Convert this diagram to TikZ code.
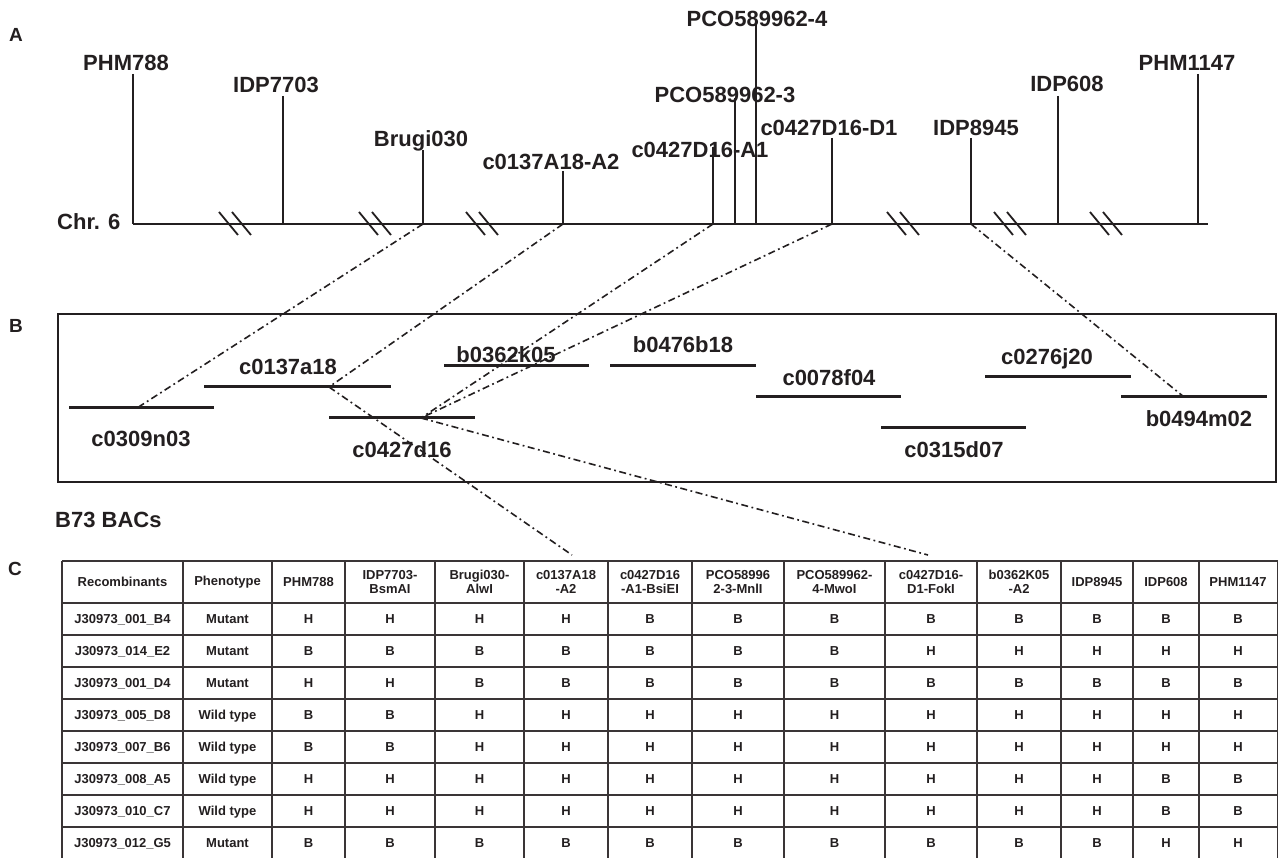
\documentclass[tikz,border=0pt]{standalone}
\usepackage{fontspec}
\setmainfont{Liberation Sans}
\definecolor{ink}{HTML}{231F20}
\definecolor{gridc}{HTML}{3A3536}
\begin{document}
\begin{tikzpicture}[x=1pt,y=-1pt,
  lbl/.style={font=\fontsize{22}{24}\selectfont\bfseries, text=ink, inner sep=0pt, anchor=base},
  panel/.style={font=\fontsize{19}{21}\selectfont\bfseries, text=ink, inner sep=0pt, anchor=base west},
  mline/.style={draw=ink, line width=2pt},
  chrline/.style={draw=ink, line width=2.2pt},
  brk/.style={draw=ink, line width=1.8pt},
  bac/.style={draw=ink, line width=3pt},
  boxline/.style={draw=ink, line width=2pt},
  linkline/.style={draw=ink, line width=1.6pt, dash pattern=on 7pt off 3.5pt on 1.8pt off 3.5pt},
  gridline/.style={draw=gridc, line width=1.8pt},
  hdr/.style={font=\fontsize{13}{13.5}\selectfont\bfseries, text=ink, inner sep=0pt, align=center},
  cell/.style={font=\fontsize{13}{14}\selectfont\bfseries, text=ink, inner sep=0pt, anchor=base}
]
\useasboundingbox (0,0) rectangle (1278,858);
\fill[white] (0,0) rectangle (1278,858);

% ---------------- Panel A ----------------
\node[panel] (pA) at (9,42) {A};
\node[lbl, anchor=base west] (chr) at (57,230) {Chr. 6};
\coordinate (chrL) at (133,224);
\coordinate (chrR) at (1208,224);
\draw[chrline] (chrL) -- (chrR);

\foreach \nm/\x/\t/\lx/\ly/\txt in {
  PHMa/133/74/126/71/PHM788,
  IDPa/283/96/276/93/IDP7703,
  Brugi/423/150/421/147/Brugi030,
  cAtwo/563/171/551/170/c0137A18-A2,
  cAone/713/147/700/158/c0427D16-A1,
  PCOc/735/98/725/103/PCO589962-3,
  PCOd/756/22/757/27/PCO589962-4,
  cDone/832/138/829/136/c0427D16-D1,
  IDPb/971/138/976/136/IDP8945,
  IDPc/1058/96/1067/92/IDP608,
  PHMb/1198/74/1187/71/PHM1147}
{
  \node[lbl] (l\nm) at (\lx,\ly) {\txt};
  \coordinate (m\nm) at (\x,224);
  \coordinate (t\nm) at (\x,\t);
  \draw[mline] (t\nm) -- (m\nm);
}

\foreach \c in {235,375,482,903,1010,1106}{
  \draw[brk] ({\c-16},212) -- ({\c+3},235);
  \draw[brk] ({\c-3},212) -- ({\c+16},235);
}

% ---------------- Panel B ----------------
\node[panel] (pB) at (9,333) {B};
\draw[boxline] (58,314) rectangle (1276,482);

\foreach \nm/\xa/\xb/\y/\lx/\ly in {
  c0309n03/69/214/408/141/447,
  c0137a18/204/391/387/288/375,
  c0427d16/329/475/418/402/458,
  b0362k05/444/589/366/506/363,
  b0476b18/610/756/366/683/353,
  c0078f04/756/901/397/829/386,
  c0315d07/881/1026/428/954/458,
  c0276j20/985/1131/377/1047/365,
  b0494m02/1121/1267/397/1199/427}
{
  \draw[bac] (\xa,\y) -- (\xb,\y);
  \node[lbl] (\nm) at (\lx,\ly) {\nm};
}

\node[lbl, anchor=base west] (b73) at (55,528) {B73 BACs};

% connectors
\coordinate (hitA) at (137,408);
\coordinate (hitB) at (329,387);
\coordinate (hitC) at (421,418);
\coordinate (hitD) at (1184,397);
\coordinate (tabA) at (572,555);
\coordinate (tabB) at (928,555);
\draw[linkline] (mBrugi) -- (hitA);
\draw[linkline] (mcAtwo) -- (hitB);
\draw[linkline] (hitB) -- (tabA);
\draw[linkline] (mcAone) -- (hitC);
\draw[linkline] (mcDone) -- (hitC);
\draw[linkline] (hitC) -- (tabB);
\draw[linkline] (mIDPb) -- (hitD);

% ---------------- Panel C ----------------
\node[panel] (pC) at (8,575) {C};

\foreach \x in {62,183,272,345,435,524,608,692,784,885,977,1061,1133,1199,1277.5}
  \draw[gridline] (\x,561) -- (\x,862);
\foreach \y in {561,603,635,667,699,731,763,795,827,859}
  \draw[gridline] (62,\y) -- (1277.5,\y);

\node[hdr] (h1) at (122.5,582) {Recombinants};
\node[hdr] (h2) at (227.5,582) {Phenotype};
\node[hdr] (h3) at (308.5,582) {PHM788};
\node[hdr] (h4) at (390,582) {IDP7703-\\BsmAI};
\node[hdr] (h5) at (479.5,582) {Brugi030-\\AlwI};
\node[hdr] (h6) at (566,582) {c0137A18\\-A2};
\node[hdr] (h7) at (650,582) {c0427D16\\-A1-BsiEI};
\node[hdr] (h8) at (738,582) {PCO58996\\2-3-MnlI};
\node[hdr] (h9) at (834.5,582) {PCO589962-\\4-MwoI};
\node[hdr] (h10) at (931,582) {c0427D16-\\D1-FokI};
\node[hdr] (h11) at (1019,582) {b0362K05\\-A2};
\node[hdr] (h12) at (1097,582) {IDP8945};
\node[hdr] (h13) at (1166,582) {IDP608};
\node[hdr] (h14) at (1238,582) {PHM1147};

\def\colxs{{122.5,227.5,308.5,390,479.5,566,650,738,834.5,931,1019,1097,1166,1238}}
\foreach \row [count=\r] in {
  {J30973\_001\_B4,Mutant,H,H,H,H,B,B,B,B,B,B,B,B},
  {J30973\_014\_E2,Mutant,B,B,B,B,B,B,B,H,H,H,H,H},
  {J30973\_001\_D4,Mutant,H,H,B,B,B,B,B,B,B,B,B,B},
  {J30973\_005\_D8,Wild type,B,B,H,H,H,H,H,H,H,H,H,H},
  {J30973\_007\_B6,Wild type,B,B,H,H,H,H,H,H,H,H,H,H},
  {J30973\_008\_A5,Wild type,H,H,H,H,H,H,H,H,H,H,B,B},
  {J30973\_010\_C7,Wild type,H,H,H,H,H,H,H,H,H,H,B,B},
  {J30973\_012\_G5,Mutant,B,B,B,B,B,B,B,B,B,B,H,H}}
{
  \foreach \v [count=\c] in \row {
    \pgfmathsetmacro\xx{\colxs[\c-1]}
    \pgfmathsetmacro\yy{603+32*\r-16+4.7}
    \node[cell] (d\r-\c) at (\xx,\yy) {\v};
  }
}
\end{tikzpicture}
\end{document}
